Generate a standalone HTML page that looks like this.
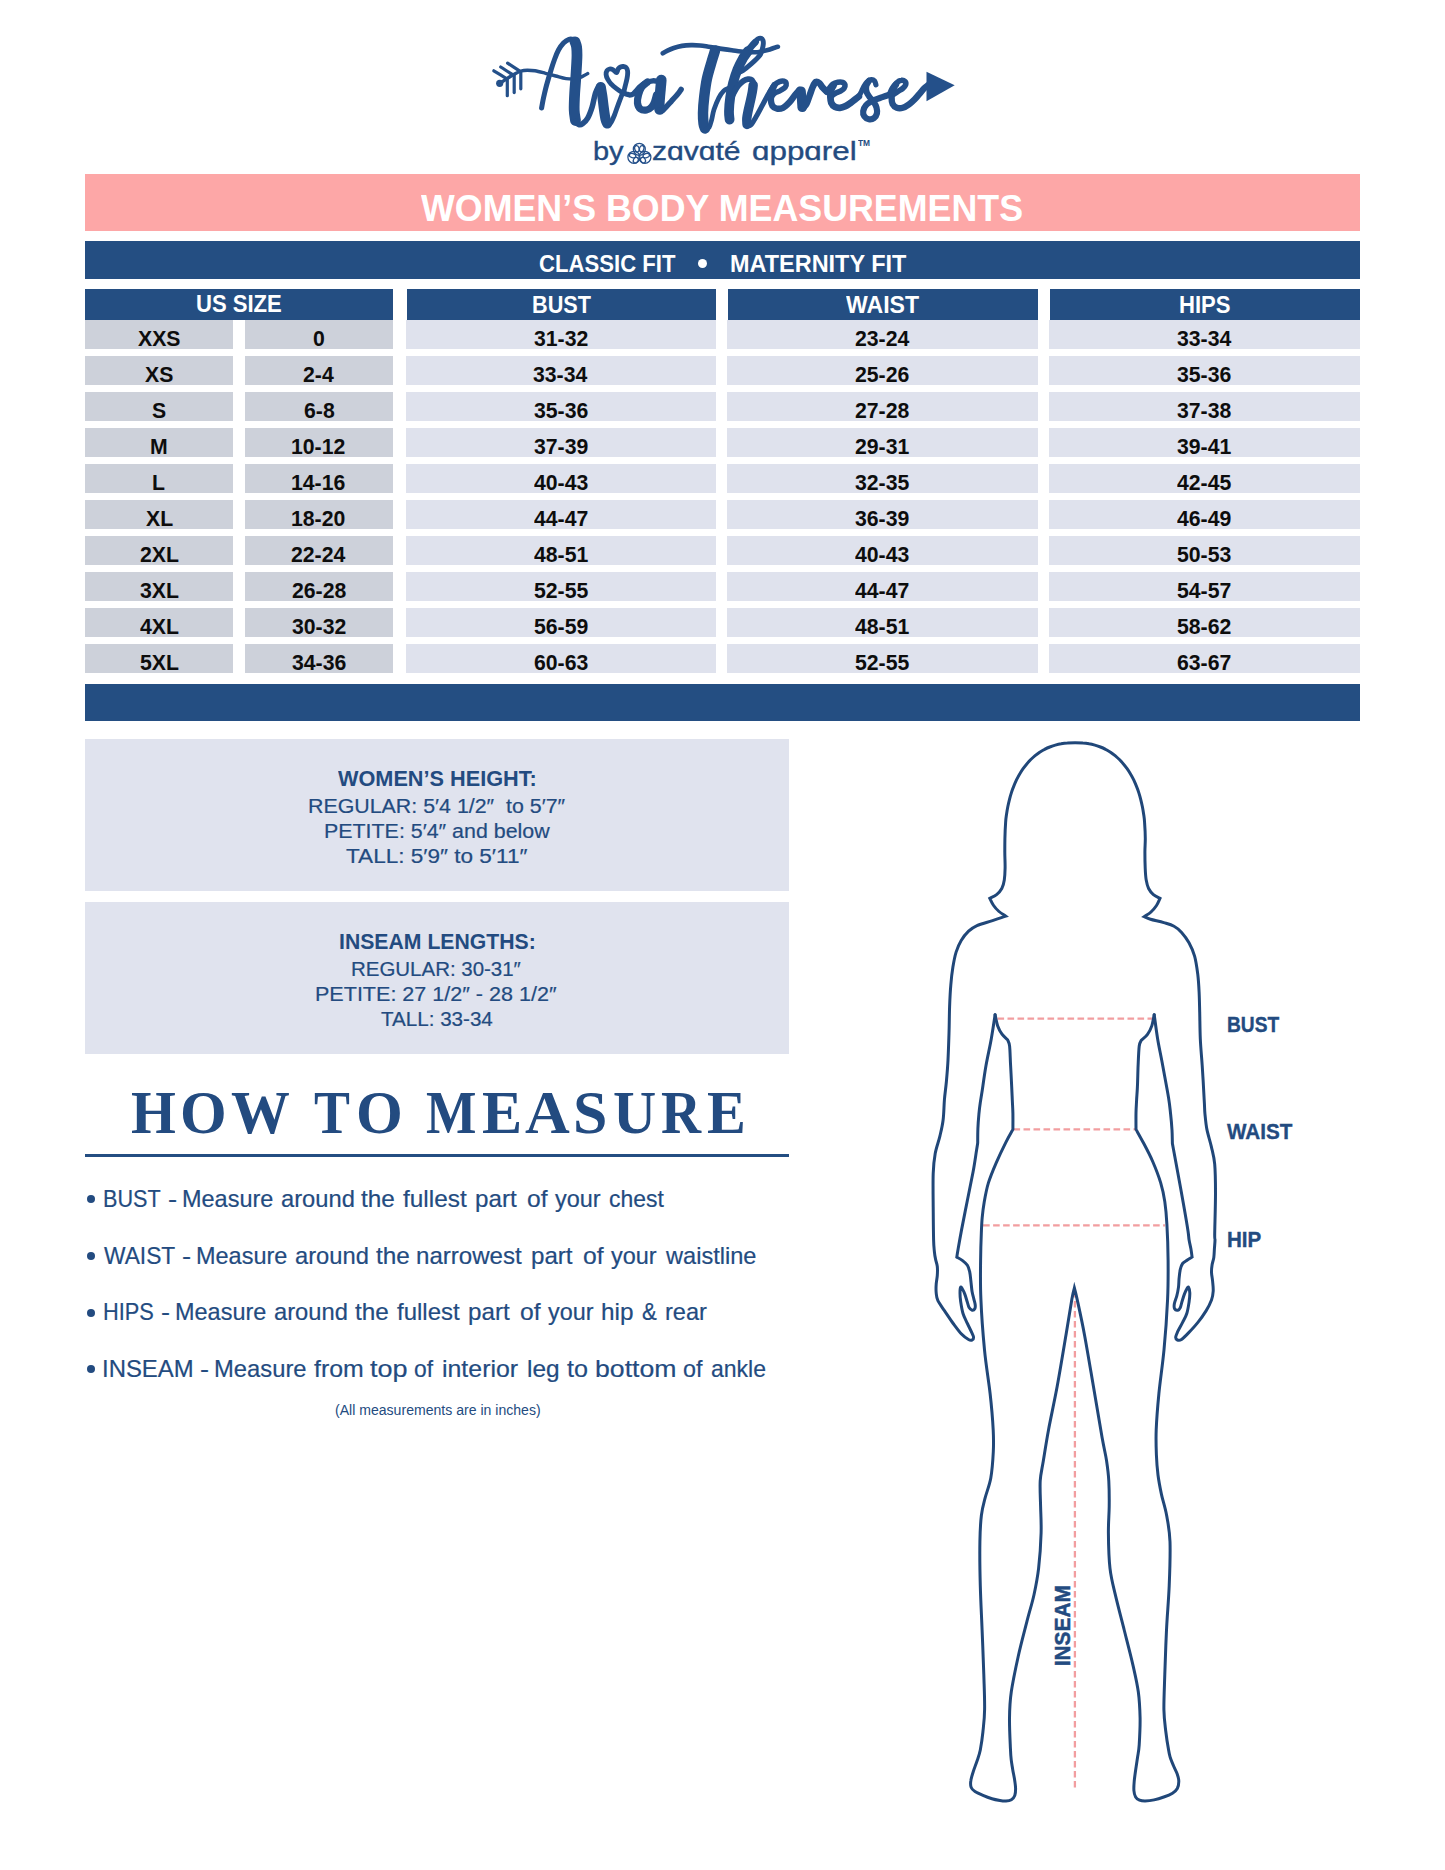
<!DOCTYPE html>
<html><head><meta charset="utf-8"><style>
html,body{margin:0;padding:0;background:#fff;}
body{width:1445px;height:1870px;position:relative;overflow:hidden;font-family:"Liberation Sans",sans-serif;}
.r{position:absolute;}
.t{position:absolute;white-space:pre;transform-origin:0 0;}
svg{position:absolute;left:0;top:0;}
</style></head><body>
<div class="r" style="left:85px;top:174px;width:1275px;height:57px;background:#fda7a7"></div>
<div class="r" style="left:85px;top:241px;width:1275px;height:38px;background:#244e82"></div>
<div class="r" style="left:85px;top:289px;width:308px;height:31px;background:#244e82"></div>
<div class="r" style="left:407px;top:289px;width:309px;height:31px;background:#244e82"></div>
<div class="r" style="left:727.5px;top:289px;width:310.5px;height:31px;background:#244e82"></div>
<div class="r" style="left:1049.5px;top:289px;width:310.5px;height:31px;background:#244e82"></div>
<div class="r" style="left:85px;top:320px;width:148px;height:29px;background:#cdd1da"></div>
<div class="r" style="left:245px;top:320px;width:148px;height:29px;background:#cdd1da"></div>
<div class="r" style="left:406px;top:320px;width:310px;height:29px;background:#dfe2ed"></div>
<div class="r" style="left:727px;top:320px;width:311px;height:29px;background:#dfe2ed"></div>
<div class="r" style="left:1049px;top:320px;width:311px;height:29px;background:#dfe2ed"></div>
<div class="r" style="left:85px;top:356px;width:148px;height:29px;background:#cdd1da"></div>
<div class="r" style="left:245px;top:356px;width:148px;height:29px;background:#cdd1da"></div>
<div class="r" style="left:406px;top:356px;width:310px;height:29px;background:#dfe2ed"></div>
<div class="r" style="left:727px;top:356px;width:311px;height:29px;background:#dfe2ed"></div>
<div class="r" style="left:1049px;top:356px;width:311px;height:29px;background:#dfe2ed"></div>
<div class="r" style="left:85px;top:392px;width:148px;height:29px;background:#cdd1da"></div>
<div class="r" style="left:245px;top:392px;width:148px;height:29px;background:#cdd1da"></div>
<div class="r" style="left:406px;top:392px;width:310px;height:29px;background:#dfe2ed"></div>
<div class="r" style="left:727px;top:392px;width:311px;height:29px;background:#dfe2ed"></div>
<div class="r" style="left:1049px;top:392px;width:311px;height:29px;background:#dfe2ed"></div>
<div class="r" style="left:85px;top:428px;width:148px;height:29px;background:#cdd1da"></div>
<div class="r" style="left:245px;top:428px;width:148px;height:29px;background:#cdd1da"></div>
<div class="r" style="left:406px;top:428px;width:310px;height:29px;background:#dfe2ed"></div>
<div class="r" style="left:727px;top:428px;width:311px;height:29px;background:#dfe2ed"></div>
<div class="r" style="left:1049px;top:428px;width:311px;height:29px;background:#dfe2ed"></div>
<div class="r" style="left:85px;top:464px;width:148px;height:29px;background:#cdd1da"></div>
<div class="r" style="left:245px;top:464px;width:148px;height:29px;background:#cdd1da"></div>
<div class="r" style="left:406px;top:464px;width:310px;height:29px;background:#dfe2ed"></div>
<div class="r" style="left:727px;top:464px;width:311px;height:29px;background:#dfe2ed"></div>
<div class="r" style="left:1049px;top:464px;width:311px;height:29px;background:#dfe2ed"></div>
<div class="r" style="left:85px;top:500px;width:148px;height:29px;background:#cdd1da"></div>
<div class="r" style="left:245px;top:500px;width:148px;height:29px;background:#cdd1da"></div>
<div class="r" style="left:406px;top:500px;width:310px;height:29px;background:#dfe2ed"></div>
<div class="r" style="left:727px;top:500px;width:311px;height:29px;background:#dfe2ed"></div>
<div class="r" style="left:1049px;top:500px;width:311px;height:29px;background:#dfe2ed"></div>
<div class="r" style="left:85px;top:536px;width:148px;height:29px;background:#cdd1da"></div>
<div class="r" style="left:245px;top:536px;width:148px;height:29px;background:#cdd1da"></div>
<div class="r" style="left:406px;top:536px;width:310px;height:29px;background:#dfe2ed"></div>
<div class="r" style="left:727px;top:536px;width:311px;height:29px;background:#dfe2ed"></div>
<div class="r" style="left:1049px;top:536px;width:311px;height:29px;background:#dfe2ed"></div>
<div class="r" style="left:85px;top:572px;width:148px;height:29px;background:#cdd1da"></div>
<div class="r" style="left:245px;top:572px;width:148px;height:29px;background:#cdd1da"></div>
<div class="r" style="left:406px;top:572px;width:310px;height:29px;background:#dfe2ed"></div>
<div class="r" style="left:727px;top:572px;width:311px;height:29px;background:#dfe2ed"></div>
<div class="r" style="left:1049px;top:572px;width:311px;height:29px;background:#dfe2ed"></div>
<div class="r" style="left:85px;top:608px;width:148px;height:29px;background:#cdd1da"></div>
<div class="r" style="left:245px;top:608px;width:148px;height:29px;background:#cdd1da"></div>
<div class="r" style="left:406px;top:608px;width:310px;height:29px;background:#dfe2ed"></div>
<div class="r" style="left:727px;top:608px;width:311px;height:29px;background:#dfe2ed"></div>
<div class="r" style="left:1049px;top:608px;width:311px;height:29px;background:#dfe2ed"></div>
<div class="r" style="left:85px;top:644px;width:148px;height:29px;background:#cdd1da"></div>
<div class="r" style="left:245px;top:644px;width:148px;height:29px;background:#cdd1da"></div>
<div class="r" style="left:406px;top:644px;width:310px;height:29px;background:#dfe2ed"></div>
<div class="r" style="left:727px;top:644px;width:311px;height:29px;background:#dfe2ed"></div>
<div class="r" style="left:1049px;top:644px;width:311px;height:29px;background:#dfe2ed"></div>
<div class="r" style="left:85px;top:684px;width:1275px;height:37px;background:#244e82"></div>
<div class="r" style="left:85px;top:739px;width:704px;height:152px;background:#e0e3ee"></div>
<div class="r" style="left:85px;top:902px;width:704px;height:152px;background:#e0e3ee"></div>
<div class="r" style="left:85px;top:1154px;width:704px;height:2.5px;background:#244e82"></div>
<div class="r" style="left:697.8px;top:259.2px;width:9px;height:9px;border-radius:50%;background:#fff"></div><div class="r" style="left:86.5px;top:1195.4px;width:8px;height:8px;border-radius:50%;background:#234b80"></div><div class="r" style="left:86.5px;top:1252.0px;width:8px;height:8px;border-radius:50%;background:#234b80"></div><div class="r" style="left:86.5px;top:1308.6px;width:8px;height:8px;border-radius:50%;background:#234b80"></div><div class="r" style="left:86.5px;top:1365.2px;width:8px;height:8px;border-radius:50%;background:#234b80"></div>
<div class="t" style="left:421.20px;top:189.63px;font:normal bold 37.4px/37.4px 'Liberation Sans',sans-serif;color:#fff;transform:scaleX(0.9575);">WOMEN’S BODY MEASUREMENTS</div>
<div class="t" style="left:538.60px;top:252.20px;font:normal bold 24.1px/24.1px 'Liberation Sans',sans-serif;color:#fff;transform:scaleX(0.9183);">CLASSIC FIT</div>
<div class="t" style="left:729.83px;top:252.20px;font:normal bold 24.1px/24.1px 'Liberation Sans',sans-serif;color:#fff;transform:scaleX(0.9737);">MATERNITY FIT</div>
<div class="t" style="left:195.71px;top:292.40px;font:normal bold 24.8px/24.8px 'Liberation Sans',sans-serif;color:#fff;transform:scaleX(0.8892);">US SIZE</div>
<div class="t" style="left:532.13px;top:292.70px;font:normal bold 24.8px/24.8px 'Liberation Sans',sans-serif;color:#fff;transform:scaleX(0.8726);">BUST</div>
<div class="t" style="left:846.20px;top:292.70px;font:normal bold 24.8px/24.8px 'Liberation Sans',sans-serif;color:#fff;transform:scaleX(0.9302);">WAIST</div>
<div class="t" style="left:1179.01px;top:292.70px;font:normal bold 24.8px/24.8px 'Liberation Sans',sans-serif;color:#fff;transform:scaleX(0.8893);">HIPS</div>
<div class="t" style="left:138.08px;top:328.07px;font:normal bold 22px/22px 'Liberation Sans',sans-serif;color:#0d0d0d;transform:scaleX(0.9650);">XXS</div>
<div class="t" style="left:313.21px;top:328.07px;font:normal bold 22px/22px 'Liberation Sans',sans-serif;color:#0d0d0d;transform:scaleX(0.9650);">0</div>
<div class="t" style="left:533.96px;top:328.07px;font:normal bold 22px/22px 'Liberation Sans',sans-serif;color:#0d0d0d;transform:scaleX(0.9650);">31-32</div>
<div class="t" style="left:854.98px;top:328.07px;font:normal bold 22px/22px 'Liberation Sans',sans-serif;color:#0d0d0d;transform:scaleX(0.9650);">23-24</div>
<div class="t" style="left:1176.98px;top:328.07px;font:normal bold 22px/22px 'Liberation Sans',sans-serif;color:#0d0d0d;transform:scaleX(0.9650);">33-34</div>
<div class="t" style="left:145.16px;top:364.07px;font:normal bold 22px/22px 'Liberation Sans',sans-serif;color:#0d0d0d;transform:scaleX(0.9650);">XS</div>
<div class="t" style="left:303.29px;top:364.07px;font:normal bold 22px/22px 'Liberation Sans',sans-serif;color:#0d0d0d;transform:scaleX(0.9650);">2-4</div>
<div class="t" style="left:533.48px;top:364.07px;font:normal bold 22px/22px 'Liberation Sans',sans-serif;color:#0d0d0d;transform:scaleX(0.9650);">33-34</div>
<div class="t" style="left:855.46px;top:364.07px;font:normal bold 22px/22px 'Liberation Sans',sans-serif;color:#0d0d0d;transform:scaleX(0.9650);">25-26</div>
<div class="t" style="left:1177.46px;top:364.07px;font:normal bold 22px/22px 'Liberation Sans',sans-serif;color:#0d0d0d;transform:scaleX(0.9650);">35-36</div>
<div class="t" style="left:152.25px;top:400.07px;font:normal bold 22px/22px 'Liberation Sans',sans-serif;color:#0d0d0d;transform:scaleX(0.9650);">S</div>
<div class="t" style="left:303.77px;top:400.07px;font:normal bold 22px/22px 'Liberation Sans',sans-serif;color:#0d0d0d;transform:scaleX(0.9650);">6-8</div>
<div class="t" style="left:533.96px;top:400.07px;font:normal bold 22px/22px 'Liberation Sans',sans-serif;color:#0d0d0d;transform:scaleX(0.9650);">35-36</div>
<div class="t" style="left:855.46px;top:400.07px;font:normal bold 22px/22px 'Liberation Sans',sans-serif;color:#0d0d0d;transform:scaleX(0.9650);">27-28</div>
<div class="t" style="left:1177.46px;top:400.07px;font:normal bold 22px/22px 'Liberation Sans',sans-serif;color:#0d0d0d;transform:scaleX(0.9650);">37-38</div>
<div class="t" style="left:150.31px;top:436.07px;font:normal bold 22px/22px 'Liberation Sans',sans-serif;color:#0d0d0d;transform:scaleX(0.9650);">M</div>
<div class="t" style="left:291.48px;top:436.07px;font:normal bold 22px/22px 'Liberation Sans',sans-serif;color:#0d0d0d;transform:scaleX(0.9650);">10-12</div>
<div class="t" style="left:533.96px;top:436.07px;font:normal bold 22px/22px 'Liberation Sans',sans-serif;color:#0d0d0d;transform:scaleX(0.9650);">37-39</div>
<div class="t" style="left:855.46px;top:436.07px;font:normal bold 22px/22px 'Liberation Sans',sans-serif;color:#0d0d0d;transform:scaleX(0.9650);">29-31</div>
<div class="t" style="left:1177.46px;top:436.07px;font:normal bold 22px/22px 'Liberation Sans',sans-serif;color:#0d0d0d;transform:scaleX(0.9650);">39-41</div>
<div class="t" style="left:152.25px;top:472.07px;font:normal bold 22px/22px 'Liberation Sans',sans-serif;color:#0d0d0d;transform:scaleX(0.9650);">L</div>
<div class="t" style="left:291.48px;top:472.07px;font:normal bold 22px/22px 'Liberation Sans',sans-serif;color:#0d0d0d;transform:scaleX(0.9650);">14-16</div>
<div class="t" style="left:533.96px;top:472.07px;font:normal bold 22px/22px 'Liberation Sans',sans-serif;color:#0d0d0d;transform:scaleX(0.9650);">40-43</div>
<div class="t" style="left:855.46px;top:472.07px;font:normal bold 22px/22px 'Liberation Sans',sans-serif;color:#0d0d0d;transform:scaleX(0.9650);">32-35</div>
<div class="t" style="left:1177.46px;top:472.07px;font:normal bold 22px/22px 'Liberation Sans',sans-serif;color:#0d0d0d;transform:scaleX(0.9650);">42-45</div>
<div class="t" style="left:145.65px;top:508.07px;font:normal bold 22px/22px 'Liberation Sans',sans-serif;color:#0d0d0d;transform:scaleX(0.9650);">XL</div>
<div class="t" style="left:291.48px;top:508.07px;font:normal bold 22px/22px 'Liberation Sans',sans-serif;color:#0d0d0d;transform:scaleX(0.9650);">18-20</div>
<div class="t" style="left:533.96px;top:508.07px;font:normal bold 22px/22px 'Liberation Sans',sans-serif;color:#0d0d0d;transform:scaleX(0.9650);">44-47</div>
<div class="t" style="left:855.46px;top:508.07px;font:normal bold 22px/22px 'Liberation Sans',sans-serif;color:#0d0d0d;transform:scaleX(0.9650);">36-39</div>
<div class="t" style="left:1177.46px;top:508.07px;font:normal bold 22px/22px 'Liberation Sans',sans-serif;color:#0d0d0d;transform:scaleX(0.9650);">46-49</div>
<div class="t" style="left:139.74px;top:544.07px;font:normal bold 22px/22px 'Liberation Sans',sans-serif;color:#0d0d0d;transform:scaleX(0.9650);">2XL</div>
<div class="t" style="left:291.48px;top:544.07px;font:normal bold 22px/22px 'Liberation Sans',sans-serif;color:#0d0d0d;transform:scaleX(0.9650);">22-24</div>
<div class="t" style="left:533.96px;top:544.07px;font:normal bold 22px/22px 'Liberation Sans',sans-serif;color:#0d0d0d;transform:scaleX(0.9650);">48-51</div>
<div class="t" style="left:855.46px;top:544.07px;font:normal bold 22px/22px 'Liberation Sans',sans-serif;color:#0d0d0d;transform:scaleX(0.9650);">40-43</div>
<div class="t" style="left:1177.46px;top:544.07px;font:normal bold 22px/22px 'Liberation Sans',sans-serif;color:#0d0d0d;transform:scaleX(0.9650);">50-53</div>
<div class="t" style="left:139.74px;top:580.07px;font:normal bold 22px/22px 'Liberation Sans',sans-serif;color:#0d0d0d;transform:scaleX(0.9650);">3XL</div>
<div class="t" style="left:291.96px;top:580.07px;font:normal bold 22px/22px 'Liberation Sans',sans-serif;color:#0d0d0d;transform:scaleX(0.9650);">26-28</div>
<div class="t" style="left:533.96px;top:580.07px;font:normal bold 22px/22px 'Liberation Sans',sans-serif;color:#0d0d0d;transform:scaleX(0.9650);">52-55</div>
<div class="t" style="left:855.46px;top:580.07px;font:normal bold 22px/22px 'Liberation Sans',sans-serif;color:#0d0d0d;transform:scaleX(0.9650);">44-47</div>
<div class="t" style="left:1177.46px;top:580.07px;font:normal bold 22px/22px 'Liberation Sans',sans-serif;color:#0d0d0d;transform:scaleX(0.9650);">54-57</div>
<div class="t" style="left:139.74px;top:616.07px;font:normal bold 22px/22px 'Liberation Sans',sans-serif;color:#0d0d0d;transform:scaleX(0.9650);">4XL</div>
<div class="t" style="left:291.96px;top:616.07px;font:normal bold 22px/22px 'Liberation Sans',sans-serif;color:#0d0d0d;transform:scaleX(0.9650);">30-32</div>
<div class="t" style="left:533.96px;top:616.07px;font:normal bold 22px/22px 'Liberation Sans',sans-serif;color:#0d0d0d;transform:scaleX(0.9650);">56-59</div>
<div class="t" style="left:855.46px;top:616.07px;font:normal bold 22px/22px 'Liberation Sans',sans-serif;color:#0d0d0d;transform:scaleX(0.9650);">48-51</div>
<div class="t" style="left:1177.46px;top:616.07px;font:normal bold 22px/22px 'Liberation Sans',sans-serif;color:#0d0d0d;transform:scaleX(0.9650);">58-62</div>
<div class="t" style="left:139.74px;top:652.07px;font:normal bold 22px/22px 'Liberation Sans',sans-serif;color:#0d0d0d;transform:scaleX(0.9650);">5XL</div>
<div class="t" style="left:291.96px;top:652.07px;font:normal bold 22px/22px 'Liberation Sans',sans-serif;color:#0d0d0d;transform:scaleX(0.9650);">34-36</div>
<div class="t" style="left:533.96px;top:652.07px;font:normal bold 22px/22px 'Liberation Sans',sans-serif;color:#0d0d0d;transform:scaleX(0.9650);">60-63</div>
<div class="t" style="left:855.46px;top:652.07px;font:normal bold 22px/22px 'Liberation Sans',sans-serif;color:#0d0d0d;transform:scaleX(0.9650);">52-55</div>
<div class="t" style="left:1177.46px;top:652.07px;font:normal bold 22px/22px 'Liberation Sans',sans-serif;color:#0d0d0d;transform:scaleX(0.9650);">63-67</div>
<div class="t" style="left:337.80px;top:769.20px;font:normal bold 21.5px/21.5px 'Liberation Sans',sans-serif;color:#234b80;transform:scaleX(1.0086);">WOMEN’S HEIGHT:</div>
<div class="t" style="left:307.66px;top:795.64px;font:normal normal 20.5px/20.5px 'Liberation Sans',sans-serif;color:#234b80;transform:scaleX(1.0423);-webkit-text-stroke:0.2px #234b80">REGULAR: 5′4 1/2″  to 5′7″</div>
<div class="t" style="left:324.16px;top:820.84px;font:normal normal 20.5px/20.5px 'Liberation Sans',sans-serif;color:#234b80;transform:scaleX(1.0436);-webkit-text-stroke:0.2px #234b80">PETITE: 5′4″ and below</div>
<div class="t" style="left:345.50px;top:846.04px;font:normal normal 20.5px/20.5px 'Liberation Sans',sans-serif;color:#234b80;transform:scaleX(1.0996);-webkit-text-stroke:0.2px #234b80">TALL: 5′9″ to 5′11″</div>
<div class="t" style="left:338.71px;top:932.20px;font:normal bold 21.5px/21.5px 'Liberation Sans',sans-serif;color:#234b80;transform:scaleX(0.9868);">INSEAM LENGTHS:</div>
<div class="t" style="left:351.30px;top:958.64px;font:normal normal 20.5px/20.5px 'Liberation Sans',sans-serif;color:#234b80;transform:scaleX(0.9981);-webkit-text-stroke:0.2px #234b80">REGULAR: 30-31″</div>
<div class="t" style="left:315.45px;top:983.84px;font:normal normal 20.5px/20.5px 'Liberation Sans',sans-serif;color:#234b80;transform:scaleX(1.0507);-webkit-text-stroke:0.2px #234b80">PETITE: 27 1/2″ - 28 1/2″</div>
<div class="t" style="left:381.40px;top:1009.24px;font:normal normal 20.5px/20.5px 'Liberation Sans',sans-serif;color:#234b80;transform:scaleX(1.0045);-webkit-text-stroke:0.2px #234b80">TALL: 33-34</div>
<div class="t" style="left:130.85px;top:1081.92px;font:normal bold 61px/61px 'Liberation Serif',serif;color:#234b80;transform:scaleX(0.9457);">H</div>
<div class="t" style="left:180.43px;top:1081.92px;font:normal bold 61px/61px 'Liberation Serif',serif;color:#234b80;transform:scaleX(0.9837);">O</div>
<div class="t" style="left:230.60px;top:1081.92px;font:normal bold 61px/61px 'Liberation Serif',serif;color:#234b80;transform:scaleX(0.9639);">W</div>
<div class="t" style="left:314.10px;top:1081.92px;font:normal bold 61px/61px 'Liberation Serif',serif;color:#234b80;transform:scaleX(0.8825);">T</div>
<div class="t" style="left:355.63px;top:1081.92px;font:normal bold 61px/61px 'Liberation Serif',serif;color:#234b80;transform:scaleX(0.9860);">O</div>
<div class="t" style="left:425.62px;top:1081.92px;font:normal bold 61px/61px 'Liberation Serif',serif;color:#234b80;transform:scaleX(0.8764);">M</div>
<div class="t" style="left:481.91px;top:1081.92px;font:normal bold 61px/61px 'Liberation Serif',serif;color:#234b80;transform:scaleX(0.9865);">E</div>
<div class="t" style="left:525.30px;top:1081.92px;font:normal bold 61px/61px 'Liberation Serif',serif;color:#234b80;transform:scaleX(1.0159);">A</div>
<div class="t" style="left:572.86px;top:1081.92px;font:normal bold 61px/61px 'Liberation Serif',serif;color:#234b80;transform:scaleX(1.0138);">S</div>
<div class="t" style="left:612.52px;top:1081.92px;font:normal bold 61px/61px 'Liberation Serif',serif;color:#234b80;transform:scaleX(0.9810);">U</div>
<div class="t" style="left:660.89px;top:1081.92px;font:normal bold 61px/61px 'Liberation Serif',serif;color:#234b80;transform:scaleX(0.9091);">R</div>
<div class="t" style="left:706.65px;top:1081.92px;font:normal bold 61px/61px 'Liberation Serif',serif;color:#234b80;transform:scaleX(0.9541);">E</div>
<div class="t" style="left:103.47px;top:1188.26px;font:normal normal 23.2px/23.2px 'Liberation Sans',sans-serif;color:#234b80;transform:scaleX(0.9312);-webkit-text-stroke:0.2px #234b80">BUST</div>
<div class="t" style="left:167.92px;top:1188.26px;font:normal normal 23.2px/23.2px 'Liberation Sans',sans-serif;color:#234b80;transform:scaleX(1.1833);-webkit-text-stroke:0.2px #234b80">-</div>
<div class="t" style="left:182.19px;top:1188.26px;font:normal normal 23.2px/23.2px 'Liberation Sans',sans-serif;color:#234b80;transform:scaleX(1.0123);-webkit-text-stroke:0.2px #234b80">Measure</div>
<div class="t" style="left:280.90px;top:1188.26px;font:normal normal 23.2px/23.2px 'Liberation Sans',sans-serif;color:#234b80;transform:scaleX(1.0224);-webkit-text-stroke:0.2px #234b80">around</div>
<div class="t" style="left:360.90px;top:1188.26px;font:normal normal 23.2px/23.2px 'Liberation Sans',sans-serif;color:#234b80;transform:scaleX(1.0498);-webkit-text-stroke:0.2px #234b80">the</div>
<div class="t" style="left:402.50px;top:1188.26px;font:normal normal 23.2px/23.2px 'Liberation Sans',sans-serif;color:#234b80;transform:scaleX(1.0518);-webkit-text-stroke:0.2px #234b80">fullest</div>
<div class="t" style="left:475.16px;top:1188.26px;font:normal normal 23.2px/23.2px 'Liberation Sans',sans-serif;color:#234b80;transform:scaleX(1.0427);-webkit-text-stroke:0.2px #234b80">part</div>
<div class="t" style="left:526.80px;top:1188.26px;font:normal normal 23.2px/23.2px 'Liberation Sans',sans-serif;color:#234b80;transform:scaleX(1.0605);-webkit-text-stroke:0.2px #234b80">of</div>
<div class="t" style="left:555.00px;top:1188.26px;font:normal normal 23.2px/23.2px 'Liberation Sans',sans-serif;color:#234b80;transform:scaleX(1.0113);-webkit-text-stroke:0.2px #234b80">your</div>
<div class="t" style="left:609.10px;top:1188.26px;font:normal normal 23.2px/23.2px 'Liberation Sans',sans-serif;color:#234b80;transform:scaleX(0.9879);-webkit-text-stroke:0.2px #234b80">chest</div>
<div class="t" style="left:103.90px;top:1244.86px;font:normal normal 23.2px/23.2px 'Liberation Sans',sans-serif;color:#234b80;transform:scaleX(0.9821);-webkit-text-stroke:0.2px #234b80">WAIST</div>
<div class="t" style="left:182.02px;top:1244.86px;font:normal normal 23.2px/23.2px 'Liberation Sans',sans-serif;color:#234b80;transform:scaleX(1.1833);-webkit-text-stroke:0.2px #234b80">-</div>
<div class="t" style="left:196.39px;top:1244.86px;font:normal normal 23.2px/23.2px 'Liberation Sans',sans-serif;color:#234b80;transform:scaleX(1.0123);-webkit-text-stroke:0.2px #234b80">Measure</div>
<div class="t" style="left:295.00px;top:1244.86px;font:normal normal 23.2px/23.2px 'Liberation Sans',sans-serif;color:#234b80;transform:scaleX(1.0224);-webkit-text-stroke:0.2px #234b80">around</div>
<div class="t" style="left:376.20px;top:1244.86px;font:normal normal 23.2px/23.2px 'Liberation Sans',sans-serif;color:#234b80;transform:scaleX(1.0498);-webkit-text-stroke:0.2px #234b80">the</div>
<div class="t" style="left:416.36px;top:1244.86px;font:normal normal 23.2px/23.2px 'Liberation Sans',sans-serif;color:#234b80;transform:scaleX(1.0378);-webkit-text-stroke:0.2px #234b80">narrowest</div>
<div class="t" style="left:531.06px;top:1244.86px;font:normal normal 23.2px/23.2px 'Liberation Sans',sans-serif;color:#234b80;transform:scaleX(1.0402);-webkit-text-stroke:0.2px #234b80">part</div>
<div class="t" style="left:582.60px;top:1244.86px;font:normal normal 23.2px/23.2px 'Liberation Sans',sans-serif;color:#234b80;transform:scaleX(1.0656);-webkit-text-stroke:0.2px #234b80">of</div>
<div class="t" style="left:610.90px;top:1244.86px;font:normal normal 23.2px/23.2px 'Liberation Sans',sans-serif;color:#234b80;transform:scaleX(1.0113);-webkit-text-stroke:0.2px #234b80">your</div>
<div class="t" style="left:666.02px;top:1244.86px;font:normal normal 23.2px/23.2px 'Liberation Sans',sans-serif;color:#234b80;transform:scaleX(1.0177);-webkit-text-stroke:0.2px #234b80">waistline</div>
<div class="t" style="left:103.46px;top:1301.46px;font:normal normal 23.2px/23.2px 'Liberation Sans',sans-serif;color:#234b80;transform:scaleX(0.9382);-webkit-text-stroke:0.2px #234b80">HIPS</div>
<div class="t" style="left:160.93px;top:1301.46px;font:normal normal 23.2px/23.2px 'Liberation Sans',sans-serif;color:#234b80;transform:scaleX(1.1667);-webkit-text-stroke:0.2px #234b80">-</div>
<div class="t" style="left:175.19px;top:1301.46px;font:normal normal 23.2px/23.2px 'Liberation Sans',sans-serif;color:#234b80;transform:scaleX(1.0123);-webkit-text-stroke:0.2px #234b80">Measure</div>
<div class="t" style="left:273.80px;top:1301.46px;font:normal normal 23.2px/23.2px 'Liberation Sans',sans-serif;color:#234b80;transform:scaleX(1.0238);-webkit-text-stroke:0.2px #234b80">around</div>
<div class="t" style="left:355.00px;top:1301.46px;font:normal normal 23.2px/23.2px 'Liberation Sans',sans-serif;color:#234b80;transform:scaleX(1.0498);-webkit-text-stroke:0.2px #234b80">the</div>
<div class="t" style="left:396.50px;top:1301.46px;font:normal normal 23.2px/23.2px 'Liberation Sans',sans-serif;color:#234b80;transform:scaleX(1.0339);-webkit-text-stroke:0.2px #234b80">fullest</div>
<div class="t" style="left:468.06px;top:1301.46px;font:normal normal 23.2px/23.2px 'Liberation Sans',sans-serif;color:#234b80;transform:scaleX(1.0427);-webkit-text-stroke:0.2px #234b80">part</div>
<div class="t" style="left:519.70px;top:1301.46px;font:normal normal 23.2px/23.2px 'Liberation Sans',sans-serif;color:#234b80;transform:scaleX(1.0656);-webkit-text-stroke:0.2px #234b80">of</div>
<div class="t" style="left:548.00px;top:1301.46px;font:normal normal 23.2px/23.2px 'Liberation Sans',sans-serif;color:#234b80;transform:scaleX(1.0091);-webkit-text-stroke:0.2px #234b80">your</div>
<div class="t" style="left:601.05px;top:1301.46px;font:normal normal 23.2px/23.2px 'Liberation Sans',sans-serif;color:#234b80;transform:scaleX(1.0500);-webkit-text-stroke:0.2px #234b80">hip</div>
<div class="t" style="left:642.10px;top:1301.46px;font:normal normal 23.2px/23.2px 'Liberation Sans',sans-serif;color:#234b80;transform:scaleX(0.9562);-webkit-text-stroke:0.2px #234b80">&amp;</div>
<div class="t" style="left:664.58px;top:1301.46px;font:normal normal 23.2px/23.2px 'Liberation Sans',sans-serif;color:#234b80;transform:scaleX(1.0170);-webkit-text-stroke:0.2px #234b80">rear</div>
<div class="t" style="left:102.34px;top:1358.06px;font:normal normal 23.2px/23.2px 'Liberation Sans',sans-serif;color:#234b80;transform:scaleX(1.0306);-webkit-text-stroke:0.2px #234b80">INSEAM</div>
<div class="t" style="left:199.73px;top:1358.06px;font:normal normal 23.2px/23.2px 'Liberation Sans',sans-serif;color:#234b80;transform:scaleX(1.1667);-webkit-text-stroke:0.2px #234b80">-</div>
<div class="t" style="left:213.97px;top:1358.06px;font:normal normal 23.2px/23.2px 'Liberation Sans',sans-serif;color:#234b80;transform:scaleX(1.0258);-webkit-text-stroke:0.2px #234b80">Measure</div>
<div class="t" style="left:313.80px;top:1358.06px;font:normal normal 23.2px/23.2px 'Liberation Sans',sans-serif;color:#234b80;transform:scaleX(1.0719);-webkit-text-stroke:0.2px #234b80">from</div>
<div class="t" style="left:370.30px;top:1358.06px;font:normal normal 23.2px/23.2px 'Liberation Sans',sans-serif;color:#234b80;transform:scaleX(1.1647);-webkit-text-stroke:0.2px #234b80">top</div>
<div class="t" style="left:413.80px;top:1358.06px;font:normal normal 23.2px/23.2px 'Liberation Sans',sans-serif;color:#234b80;transform:scaleX(0.9851);-webkit-text-stroke:0.2px #234b80">of</div>
<div class="t" style="left:441.83px;top:1358.06px;font:normal normal 23.2px/23.2px 'Liberation Sans',sans-serif;color:#234b80;transform:scaleX(1.0733);-webkit-text-stroke:0.2px #234b80">interior</div>
<div class="t" style="left:526.55px;top:1358.06px;font:normal normal 23.2px/23.2px 'Liberation Sans',sans-serif;color:#234b80;transform:scaleX(1.0535);-webkit-text-stroke:0.2px #234b80">leg</div>
<div class="t" style="left:566.50px;top:1358.06px;font:normal normal 23.2px/23.2px 'Liberation Sans',sans-serif;color:#234b80;transform:scaleX(1.0845);-webkit-text-stroke:0.2px #234b80">to</div>
<div class="t" style="left:594.75px;top:1358.06px;font:normal normal 23.2px/23.2px 'Liberation Sans',sans-serif;color:#234b80;transform:scaleX(1.1492);-webkit-text-stroke:0.2px #234b80">bottom</div>
<div class="t" style="left:682.90px;top:1358.06px;font:normal normal 23.2px/23.2px 'Liberation Sans',sans-serif;color:#234b80;transform:scaleX(1.0052);-webkit-text-stroke:0.2px #234b80">of</div>
<div class="t" style="left:711.20px;top:1358.06px;font:normal normal 23.2px/23.2px 'Liberation Sans',sans-serif;color:#234b80;transform:scaleX(0.9920);-webkit-text-stroke:0.2px #234b80">ankle</div>
<div class="t" style="left:334.60px;top:1403.82px;font:normal normal 13.8px/13.8px 'Liberation Sans',sans-serif;color:#234b80;transform:scaleX(1.0195);">(All measurements are in inches)</div>
<div class="t" style="left:1226.94px;top:1013.62px;font:normal bold 22.3px/22.3px 'Liberation Sans',sans-serif;color:#234b80;transform:scaleX(0.8589);-webkit-text-stroke:0.35px #234b80">BUST</div>
<div class="t" style="left:1227.20px;top:1121.32px;font:normal bold 22.3px/22.3px 'Liberation Sans',sans-serif;color:#234b80;transform:scaleX(0.9270);-webkit-text-stroke:0.35px #234b80">WAIST</div>
<div class="t" style="left:1226.88px;top:1229.42px;font:normal bold 22.3px/22.3px 'Liberation Sans',sans-serif;color:#234b80;transform:scaleX(0.9229);-webkit-text-stroke:0.35px #234b80">HIP</div>
<div class="t" style="left:592.84px;top:139.03px;font:normal normal 25px/25px 'Liberation Sans',sans-serif;color:#234b80;transform:scaleX(1.1581);-webkit-text-stroke:0.35px #234b80">by</div>
<div class="t" style="left:652.00px;top:139.03px;font:normal normal 25px/25px 'Liberation Sans',sans-serif;color:#234b80;transform:scaleX(1.2027);-webkit-text-stroke:0.35px #234b80">zɑvɑté</div>
<div class="t" style="left:752.35px;top:139.03px;font:normal normal 25px/25px 'Liberation Sans',sans-serif;color:#234b80;transform:scaleX(1.2543);-webkit-text-stroke:0.35px #234b80">ɑppɑrel</div>
<div class="t" style="left:858.00px;top:139.40px;font:normal bold 8.5px/8.5px 'Liberation Sans',sans-serif;color:#234b80;transform:scaleX(0.9842);">TM</div>
<svg width="1445" height="1870" viewBox="0 0 1445 1870">
<g fill="none" stroke="#f29ea0" stroke-width="2.3" stroke-dasharray="6.6 3.4">
<line x1="997.5" y1="1018.7" x2="1153" y2="1018.7"/>
<line x1="1013.5" y1="1129.3" x2="1135.5" y2="1129.3"/>
<line x1="983.1" y1="1225.3" x2="1165" y2="1225.3"/>
<line x1="1074.9" y1="1291" x2="1074.9" y2="1788"/>
</g>
<g fill="none" stroke="#204779" stroke-width="3" stroke-linejoin="miter" stroke-miterlimit="10" stroke-linecap="round">
<path d="M995.1,1014.7 C994.5,1018.7 992.8,1030.2 991.3,1038.7 C989.8,1047.2 987.5,1057.0 986.0,1065.5 C984.5,1074.0 983.2,1083.8 982.3,1090.0 C981.3,1096.2 980.9,1098.5 980.3,1102.5 C979.7,1106.5 979.3,1109.8 978.9,1114.1 C978.5,1118.4 978.1,1123.7 977.9,1128.5 C977.7,1133.3 977.7,1140.6 977.7,1143.0 C977.5,1144.2 977.4,1145.2 976.6,1150.0 C975.8,1154.8 974.7,1163.3 973.1,1171.8 C971.5,1180.2 969.2,1191.1 967.3,1200.7 C965.4,1210.3 963.1,1221.6 961.6,1229.6 C960.1,1237.6 959.0,1243.9 958.2,1248.5 C957.4,1253.1 957.0,1255.7 956.8,1257.1 C957.8,1257.7 960.8,1259.2 962.6,1260.6 C964.4,1262.0 966.2,1263.4 967.4,1265.3 C968.6,1267.2 969.1,1269.1 969.7,1271.8 C970.3,1274.5 970.5,1277.9 970.9,1281.2 C971.3,1284.5 971.6,1288.9 972.1,1291.8 C972.6,1294.7 973.3,1296.6 973.8,1298.8 C974.3,1301.0 975.0,1303.0 975.2,1304.7 C975.4,1306.4 975.3,1307.9 974.8,1308.8 C974.3,1309.7 973.0,1310.4 972.1,1310.2 C971.2,1310.0 969.9,1309.0 969.1,1307.6 C968.3,1306.2 967.9,1304.0 967.2,1301.8 C966.5,1299.5 965.6,1296.2 964.8,1294.1 C964.0,1292.0 963.1,1290.1 962.4,1289.0 C961.7,1287.9 961.0,1286.6 960.6,1287.3 C960.2,1288.0 960.0,1290.5 960.0,1292.9 C960.0,1295.3 960.2,1298.4 960.7,1301.8 C961.2,1305.2 961.9,1309.9 963.0,1313.5 C964.1,1317.1 965.9,1320.3 967.4,1323.5 C968.9,1326.7 970.9,1330.6 971.9,1332.9 C972.9,1335.2 973.6,1336.2 973.6,1337.4 C973.6,1338.6 973.0,1339.7 972.1,1340.0 C971.2,1340.3 970.3,1340.5 968.5,1339.5 C966.7,1338.5 964.0,1336.8 961.5,1334.1 C959.0,1331.4 956.1,1327.4 953.2,1323.5 C950.4,1319.6 947.0,1314.4 944.4,1310.6 C941.8,1306.8 939.3,1303.5 937.9,1300.6 C936.5,1297.6 936.5,1295.7 936.2,1292.9 C935.9,1290.2 936.0,1287.0 936.2,1284.1 C936.4,1281.2 937.1,1278.2 937.3,1275.3 C937.5,1272.4 937.6,1269.2 937.3,1266.5 C937.0,1263.8 936.1,1261.9 935.6,1259.4 C935.1,1257.0 934.7,1255.0 934.4,1251.8 C934.1,1248.6 933.8,1247.5 933.6,1240.0 C933.4,1232.5 933.3,1218.1 933.2,1207.0 C933.1,1195.9 932.9,1182.4 933.2,1173.5 C933.5,1164.6 934.1,1159.7 935.2,1153.5 C936.3,1147.3 938.6,1141.7 939.9,1136.1 C941.2,1130.5 942.4,1126.0 943.1,1120.0 C943.9,1114.0 943.9,1106.4 944.4,1100.0 C944.9,1093.6 945.8,1088.2 946.4,1081.5 C947.0,1074.8 947.6,1068.1 948.0,1060.1 C948.4,1052.1 948.7,1042.3 949.0,1033.4 C949.3,1024.5 949.3,1014.6 949.6,1006.6 C949.9,998.6 950.2,991.8 950.8,985.2 C951.3,978.6 952.0,972.6 952.9,967.1 C953.8,961.6 954.7,956.5 956.1,952.1 C957.5,947.7 959.1,944.0 961.2,940.5 C963.3,937.0 966.0,933.7 968.6,931.2 C971.2,928.7 973.0,927.4 977.0,925.6 C981.0,923.9 987.7,922.3 992.5,920.7 C997.3,919.1 1003.6,917.0 1005.8,916.2 C1004.7,915.4 1001.0,913.3 999.0,911.5 C997.0,909.7 995.1,907.7 993.6,905.5 C992.1,903.3 990.4,899.5 989.8,898.3 C990.9,897.7 994.6,896.2 996.6,894.6 C998.6,893.0 1000.5,890.9 1001.8,888.5 C1003.1,886.1 1003.8,883.4 1004.3,880.0 C1004.8,876.6 1005.0,872.7 1005.1,868.0 C1005.2,863.3 1004.8,856.9 1004.8,852.0 C1004.8,847.1 1004.8,843.7 1004.9,838.8 C1005.0,833.9 1005.3,826.8 1005.6,822.8 C1005.8,818.7 1006.1,817.2 1006.5,814.5 C1006.9,811.8 1007.3,809.2 1007.8,806.7 C1008.3,804.2 1008.9,801.7 1009.5,799.3 C1010.1,796.9 1010.8,794.6 1011.5,792.4 C1012.2,790.1 1013.0,787.9 1013.9,785.8 C1014.8,783.7 1015.7,781.7 1016.6,779.7 C1017.6,777.7 1018.6,775.8 1019.7,774.0 C1020.8,772.2 1021.9,770.4 1023.1,768.7 C1024.3,767.0 1025.5,765.4 1026.8,763.9 C1028.1,762.4 1029.4,760.9 1030.8,759.5 C1032.2,758.2 1033.6,756.9 1035.1,755.6 C1036.6,754.4 1038.1,753.3 1039.7,752.2 C1041.3,751.2 1042.9,750.2 1044.6,749.4 C1046.3,748.5 1048.0,747.7 1049.8,747.0 C1051.6,746.3 1053.4,745.6 1055.3,745.1 C1057.1,744.6 1059.1,744.1 1061.1,743.8 C1063.1,743.4 1065.1,743.1 1067.4,743.0 C1069.7,742.8 1072.5,742.7 1075.1,742.7 C1077.7,742.7 1080.5,742.8 1082.8,743.0 C1085.1,743.1 1087.1,743.4 1089.1,743.8 C1091.1,744.1 1093.1,744.6 1094.9,745.1 C1096.8,745.6 1098.6,746.3 1100.4,747.0 C1102.2,747.7 1103.9,748.5 1105.6,749.4 C1107.3,750.2 1108.9,751.2 1110.5,752.2 C1112.1,753.3 1113.6,754.4 1115.1,755.6 C1116.6,756.9 1118.0,758.2 1119.4,759.5 C1120.8,760.9 1122.1,762.4 1123.4,763.9 C1124.7,765.4 1125.9,767.0 1127.1,768.7 C1128.3,770.4 1129.4,772.2 1130.5,774.0 C1131.6,775.8 1132.6,777.7 1133.6,779.7 C1134.5,781.7 1135.4,783.7 1136.3,785.8 C1137.2,787.9 1138.0,790.1 1138.7,792.4 C1139.4,794.6 1140.1,796.9 1140.7,799.3 C1141.3,801.7 1141.9,804.2 1142.4,806.7 C1142.9,809.2 1143.3,811.8 1143.7,814.5 C1144.1,817.2 1144.4,818.7 1144.6,822.8 C1144.9,826.8 1145.3,833.9 1145.3,838.8 C1145.3,843.7 1144.9,847.1 1144.9,852.0 C1144.9,856.9 1145.0,863.3 1145.2,868.0 C1145.4,872.7 1145.6,876.6 1146.2,880.0 C1146.8,883.4 1147.4,886.1 1148.6,888.5 C1149.8,890.9 1151.5,893.0 1153.4,894.6 C1155.3,896.2 1158.9,897.8 1160.0,898.4 C1159.4,899.6 1158.0,903.2 1156.5,905.5 C1155.0,907.8 1153.0,910.1 1151.0,912.0 C1149.0,913.9 1145.3,915.8 1144.2,916.6 C1145.2,917.0 1147.2,918.2 1150.5,919.2 C1153.8,920.2 1159.9,921.4 1163.8,922.6 C1167.7,923.8 1171.0,924.6 1174.0,926.2 C1177.0,927.8 1179.1,929.6 1181.6,932.4 C1184.1,935.2 1186.8,938.8 1189.0,942.8 C1191.2,946.8 1193.1,950.9 1194.6,956.2 C1196.1,961.5 1197.0,968.5 1197.8,974.5 C1198.5,980.5 1198.8,985.8 1199.1,992.0 C1199.4,998.2 1199.5,1004.2 1199.7,1012.0 C1199.9,1019.8 1199.9,1029.8 1200.3,1038.7 C1200.7,1047.6 1201.5,1055.3 1202.2,1065.5 C1202.9,1075.7 1203.8,1092.0 1204.2,1100.0 C1204.7,1108.0 1204.5,1108.5 1204.9,1113.4 C1205.4,1118.3 1205.8,1123.8 1206.9,1129.4 C1208.0,1135.0 1210.1,1141.0 1211.4,1146.8 C1212.7,1152.6 1214.0,1156.4 1214.7,1164.2 C1215.4,1172.0 1215.5,1182.0 1215.5,1193.6 C1215.5,1205.2 1214.8,1226.0 1214.7,1233.7 C1214.6,1241.4 1215.0,1237.5 1215.0,1240.0 C1215.0,1242.5 1214.6,1245.9 1214.4,1248.8 C1214.2,1251.7 1214.2,1254.9 1213.8,1257.6 C1213.4,1260.2 1212.5,1262.2 1212.1,1264.7 C1211.7,1267.2 1211.4,1269.7 1211.5,1272.4 C1211.6,1275.2 1212.3,1278.1 1212.6,1281.2 C1212.9,1284.3 1213.4,1288.1 1213.2,1291.2 C1213.0,1294.3 1212.7,1296.8 1211.5,1300.0 C1210.3,1303.2 1208.5,1306.9 1206.2,1310.6 C1203.9,1314.3 1200.9,1318.7 1197.9,1322.4 C1195.0,1326.1 1191.2,1330.1 1188.5,1332.9 C1185.8,1335.8 1183.3,1338.3 1181.5,1339.5 C1179.7,1340.7 1178.4,1340.4 1177.4,1340.0 C1176.4,1339.6 1175.6,1338.6 1175.7,1337.1 C1175.8,1335.6 1176.8,1333.7 1177.9,1331.2 C1179.1,1328.8 1181.1,1325.4 1182.6,1322.4 C1184.1,1319.5 1185.7,1316.9 1186.8,1313.5 C1187.9,1310.1 1188.6,1305.2 1189.1,1301.8 C1189.6,1298.4 1189.9,1295.3 1189.8,1292.9 C1189.7,1290.5 1189.1,1288.0 1188.6,1287.3 C1188.1,1286.6 1187.7,1287.5 1187.0,1288.6 C1186.3,1289.7 1185.2,1292.0 1184.4,1294.1 C1183.6,1296.2 1182.8,1299.0 1182.1,1301.2 C1181.4,1303.5 1181.0,1306.1 1180.3,1307.6 C1179.6,1309.1 1178.9,1310.0 1177.9,1310.2 C1177.0,1310.4 1175.2,1309.9 1174.6,1308.8 C1174.0,1307.7 1174.0,1305.7 1174.4,1303.5 C1174.8,1301.3 1176.1,1298.6 1176.8,1295.9 C1177.5,1293.2 1178.1,1290.0 1178.5,1287.1 C1178.9,1284.1 1178.8,1281.2 1179.1,1278.2 C1179.4,1275.2 1179.7,1271.9 1180.3,1269.4 C1180.9,1267.0 1181.4,1265.1 1182.6,1263.5 C1183.8,1261.9 1185.8,1261.1 1187.4,1260.0 C1189.0,1258.9 1191.3,1257.6 1192.1,1257.1 C1191.9,1255.7 1191.4,1251.6 1190.9,1248.8 C1190.4,1246.0 1189.6,1243.0 1189.1,1240.0 C1188.6,1237.0 1188.9,1237.0 1188.0,1231.0 C1187.1,1225.0 1185.3,1214.5 1183.5,1204.3 C1181.7,1194.0 1178.9,1178.5 1177.2,1169.5 C1175.5,1160.5 1174.4,1154.3 1173.6,1150.0 C1172.8,1145.7 1172.6,1144.6 1172.4,1143.5 C1172.3,1141.2 1172.3,1134.9 1172.0,1130.0 C1171.7,1125.1 1171.2,1119.3 1170.6,1114.0 C1170.0,1108.7 1169.9,1106.1 1168.6,1098.0 C1167.3,1089.9 1164.5,1075.4 1162.7,1065.5 C1160.9,1055.6 1159.0,1047.2 1157.6,1038.7 C1156.2,1030.2 1154.8,1018.7 1154.2,1014.7 "/>
<path d="M995.1,1014.7 C995.5,1016.6 996.6,1022.7 997.7,1025.9 C998.9,1029.2 1000.4,1031.9 1002.0,1034.2 C1003.6,1036.5 1006.7,1038.9 1007.6,1039.8 C1007.9,1040.9 1009.1,1041.9 1009.6,1046.2 C1010.1,1050.5 1010.2,1058.7 1010.6,1065.5 C1011.0,1072.3 1011.4,1081.2 1011.7,1086.9 C1012.0,1092.7 1012.1,1095.6 1012.3,1100.0 C1012.5,1104.4 1012.8,1108.5 1012.9,1113.4 C1013.0,1118.3 1012.9,1126.7 1012.9,1129.4 C1011.7,1131.6 1008.4,1137.2 1005.6,1142.8 C1002.8,1148.4 999.1,1156.1 996.2,1162.8 C993.3,1169.5 990.4,1176.4 988.4,1182.9 C986.4,1189.4 985.3,1195.8 984.3,1201.6 C983.3,1207.4 982.7,1212.2 982.2,1217.6 C981.7,1222.9 981.6,1226.6 981.3,1233.7 C981.0,1240.8 980.7,1249.5 980.6,1260.4 C980.5,1271.3 980.2,1284.2 980.9,1299.1 C981.5,1314.0 983.0,1334.2 984.5,1349.9 C986.0,1365.6 988.6,1380.2 990.1,1393.5 C991.6,1406.8 992.7,1420.2 993.2,1429.9 C993.7,1439.6 993.7,1443.7 993.3,1451.7 C992.9,1459.7 992.1,1470.3 990.8,1478.0 C989.4,1485.7 986.8,1491.5 985.2,1497.7 C983.6,1503.9 982.3,1508.0 981.4,1515.3 C980.5,1522.6 980.1,1530.0 979.9,1541.8 C979.7,1553.6 979.9,1571.2 980.3,1585.9 C980.7,1600.6 981.5,1615.3 982.1,1630.0 C982.7,1644.7 983.4,1661.0 983.8,1674.2 C984.2,1687.5 984.8,1699.9 984.6,1709.5 C984.5,1719.1 983.6,1725.2 982.9,1732.0 C982.2,1738.8 981.2,1745.2 980.3,1750.0 C979.3,1754.8 978.4,1756.9 977.2,1760.5 C976.0,1764.1 974.4,1768.1 973.3,1771.5 C972.2,1774.9 971.1,1778.3 970.8,1781.0 C970.4,1783.7 970.5,1785.8 971.2,1787.5 C971.9,1789.2 973.0,1790.2 975.0,1791.5 C977.0,1792.8 980.2,1794.2 983.0,1795.4 C985.8,1796.6 989.2,1797.9 992.0,1798.8 C994.8,1799.7 997.7,1800.2 1000.0,1800.6 C1002.3,1801.0 1004.1,1801.2 1006.0,1801.1 C1007.9,1801.0 1009.9,1800.7 1011.4,1799.8 C1012.9,1798.9 1014.1,1797.3 1014.8,1795.5 C1015.5,1793.7 1015.6,1791.5 1015.6,1788.8 C1015.6,1786.1 1015.0,1782.3 1014.5,1779.1 C1014.0,1775.9 1013.2,1772.6 1012.7,1769.4 C1012.2,1766.2 1011.6,1763.3 1011.2,1759.7 C1010.8,1756.1 1010.7,1754.9 1010.4,1748.0 C1010.1,1741.1 1009.4,1727.7 1009.5,1718.3 C1009.6,1708.9 1009.8,1702.1 1011.3,1691.8 C1012.8,1681.5 1015.6,1668.3 1018.2,1656.5 C1020.8,1644.7 1024.4,1631.5 1027.0,1621.2 C1029.6,1610.9 1032.1,1603.5 1034.0,1594.7 C1035.9,1585.9 1037.4,1578.6 1038.6,1568.3 C1039.8,1558.0 1040.8,1543.3 1041.1,1533.0 C1041.4,1522.7 1040.8,1515.2 1040.6,1506.5 C1040.4,1497.8 1039.8,1488.6 1040.2,1481.0 C1040.7,1473.4 1041.9,1469.5 1043.3,1461.0 C1044.7,1452.5 1046.2,1442.4 1048.5,1429.9 C1050.8,1417.5 1054.3,1402.0 1057.2,1386.3 C1060.1,1370.5 1063.5,1349.9 1065.9,1335.4 C1068.4,1320.9 1070.5,1307.0 1071.9,1299.1 C1073.3,1291.2 1074.0,1289.8 1074.4,1288.0 C1074.9,1289.8 1075.4,1291.2 1077.1,1299.1 C1078.8,1307.0 1081.9,1320.9 1084.6,1335.4 C1087.3,1349.9 1090.5,1369.3 1093.4,1386.3 C1096.3,1403.2 1099.8,1424.6 1102.0,1437.1 C1104.2,1449.5 1105.5,1453.7 1106.6,1461.0 C1107.7,1468.3 1108.4,1473.4 1108.8,1481.0 C1109.2,1488.6 1109.3,1497.8 1109.2,1506.5 C1109.1,1515.2 1108.3,1522.7 1108.4,1533.0 C1108.5,1543.3 1108.8,1558.0 1110.0,1568.3 C1111.2,1578.6 1112.9,1584.4 1115.3,1594.7 C1117.7,1605.0 1121.2,1618.2 1124.2,1630.0 C1127.2,1641.8 1130.7,1655.0 1133.0,1665.3 C1135.3,1675.6 1137.1,1683.0 1138.3,1691.8 C1139.5,1700.6 1139.9,1709.5 1140.1,1718.3 C1140.2,1727.1 1139.6,1738.3 1139.2,1744.8 C1138.8,1751.2 1138.2,1753.0 1137.6,1757.0 C1137.0,1761.0 1136.4,1764.9 1135.8,1769.0 C1135.2,1773.1 1134.5,1777.9 1134.2,1781.5 C1133.9,1785.1 1133.7,1787.9 1133.9,1790.5 C1134.1,1793.1 1134.7,1795.4 1135.6,1797.0 C1136.5,1798.6 1137.9,1799.5 1139.5,1800.2 C1141.1,1800.9 1142.6,1801.1 1145.0,1801.1 C1147.4,1801.0 1151.0,1800.6 1154.1,1799.9 C1157.2,1799.2 1160.7,1798.1 1163.8,1797.0 C1166.9,1795.9 1170.2,1794.6 1172.5,1793.2 C1174.8,1791.8 1176.2,1790.5 1177.3,1788.5 C1178.3,1786.5 1178.8,1783.9 1178.8,1781.5 C1178.8,1779.1 1178.2,1776.8 1177.3,1774.2 C1176.4,1771.6 1174.8,1768.8 1173.6,1766.0 C1172.4,1763.2 1171.0,1760.0 1170.2,1757.3 C1169.4,1754.6 1169.3,1754.4 1168.6,1750.0 C1167.8,1745.6 1166.5,1737.5 1165.7,1730.7 C1164.9,1724.0 1164.1,1718.9 1163.9,1709.5 C1163.8,1700.1 1164.4,1687.5 1164.8,1674.2 C1165.2,1661.0 1165.8,1644.7 1166.5,1630.0 C1167.2,1615.3 1168.6,1600.6 1169.2,1585.9 C1169.8,1571.2 1170.4,1553.6 1170.0,1541.8 C1169.6,1530.0 1168.0,1523.2 1166.6,1515.3 C1165.2,1507.3 1162.8,1500.8 1161.4,1494.1 C1160.0,1487.4 1158.8,1481.5 1158.0,1475.0 C1157.2,1468.5 1156.7,1462.5 1156.4,1455.0 C1156.1,1447.5 1155.8,1440.2 1156.2,1429.9 C1156.6,1419.7 1157.6,1406.8 1158.9,1393.5 C1160.2,1380.2 1162.5,1365.6 1164.0,1349.9 C1165.5,1334.2 1166.9,1314.0 1167.6,1299.1 C1168.3,1284.2 1168.2,1272.9 1168.1,1260.4 C1168.0,1247.9 1167.5,1234.1 1166.9,1224.3 C1166.4,1214.5 1165.8,1208.5 1164.8,1201.6 C1163.8,1194.7 1162.7,1189.6 1160.7,1182.9 C1158.7,1176.2 1155.6,1168.2 1152.7,1161.5 C1149.8,1154.8 1146.2,1148.1 1143.4,1142.8 C1140.6,1137.5 1137.2,1131.6 1136.0,1129.4 C1136.0,1126.7 1135.9,1117.9 1136.0,1113.0 C1136.1,1108.1 1136.4,1104.3 1136.6,1100.0 C1136.8,1095.7 1137.2,1092.7 1137.4,1086.9 C1137.7,1081.2 1137.8,1072.3 1138.1,1065.5 C1138.4,1058.7 1138.7,1050.4 1139.2,1046.2 C1139.7,1042.0 1141.0,1041.3 1141.3,1040.3 C1142.3,1039.3 1145.8,1036.7 1147.5,1034.3 C1149.2,1031.9 1150.7,1029.2 1151.8,1025.9 C1152.9,1022.6 1153.8,1016.6 1154.2,1014.7 "/>
</g>
<text x="0" y="0" transform="translate(1070.3,1666.2) rotate(-90)" font-family="Liberation Sans" font-weight="bold" font-size="21.8" fill="#234b80" stroke="#234b80" stroke-width="0.5" textLength="81" lengthAdjust="spacingAndGlyphs">INSEAM</text>
</svg>
<svg width="1445" height="1870" viewBox="0 0 1445 1870">
<g fill="none" stroke="#24508a" stroke-linejoin="round">
<path d="M493.8,70.8 C495.9,72.1 504.4,77.3 506.5,78.6" stroke-width="3.2" stroke-linecap="round"/>
<path d="M500.7,67.0 C502.8,68.3 510.9,73.7 513.0,75.0" stroke-width="3.2" stroke-linecap="round"/>
<path d="M507.6,63.2 C509.5,64.4 517.2,69.4 519.1,70.6" stroke-width="3.2" stroke-linecap="round"/>
<path d="M507.3,79.0 C507.3,81.8 507.3,92.9 507.3,95.7" stroke-width="3.2" stroke-linecap="round"/>
<path d="M514.2,75.5 C514.2,78.3 514.2,89.8 514.2,92.6" stroke-width="3.2" stroke-linecap="round"/>
<path d="M520.8,72.0 C520.8,74.8 520.8,86.0 520.8,88.8" stroke-width="3.2" stroke-linecap="round"/>
<path d="M499.7,83.3 C501.0,82.5 504.9,79.9 507.3,78.4 C509.7,76.9 511.9,75.5 514.2,74.3 C516.5,73.1 518.9,71.7 521.1,71.0 C523.3,70.3 525.1,70.3 527.4,70.3 C529.7,70.3 532.0,70.3 535.0,70.8 C538.0,71.3 541.9,72.4 545.4,73.3 C548.9,74.2 552.2,75.1 555.7,76.0 C559.2,76.9 562.6,78.1 566.1,78.6 C569.6,79.1 573.8,79.1 576.5,78.8 C579.2,78.5 580.2,77.5 582.1,76.6 C584.0,75.7 586.8,74.1 587.7,73.6" stroke-width="3.4" stroke-linecap="round"/>
<path d="M541.6,108.0 C541.9,106.3 542.8,101.2 543.5,98.0 C544.2,94.8 544.8,92.0 545.6,88.8 C546.4,85.6 547.4,82.2 548.3,79.0 C549.2,75.8 550.1,73.0 551.1,69.8 C552.1,66.5 553.3,62.8 554.5,59.5 C555.7,56.2 557.0,52.8 558.5,50.0 C560.0,47.2 561.8,44.8 563.5,43.0 C565.2,41.2 567.2,39.9 569.0,39.3 C570.8,38.7 573.6,39.5 574.5,39.6" stroke-width="5.06" stroke-linecap="round"/>
<path d="M575.0,41.8 C575.3,42.7 576.3,44.8 576.6,47.0 C576.9,49.2 577.0,52.3 577.0,55.0 C577.0,57.7 576.9,59.2 576.7,63.0 C576.5,66.8 576.1,73.0 575.8,78.0 C575.5,83.0 575.0,87.7 574.7,93.0 C574.4,98.3 574.1,105.4 574.2,110.0 C574.3,114.6 575.3,118.8 575.5,120.5" stroke-width="10.78" stroke-linecap="round"/>
<path d="M575.5,121.0 C576.0,121.6 577.3,124.0 578.5,124.5 C579.7,125.0 581.0,124.9 582.5,123.8 C584.0,122.7 586.1,120.9 587.7,118.1 C589.3,115.3 590.8,111.2 592.1,107.1 C593.4,102.9 594.3,96.7 595.4,93.2 C596.5,89.7 598.2,87.2 598.8,86.0" stroke-width="5.5" stroke-linecap="round"/>
<path d="M600.8,87.0 C601.0,88.5 601.8,92.5 602.3,96.0 C602.8,99.5 603.3,104.2 603.8,108.0 C604.3,111.8 604.9,116.4 605.5,119.0 C606.1,121.6 606.9,122.8 607.2,123.5" stroke-width="10.12" stroke-linecap="round"/>
<path d="M607.0,124.5 C607.6,124.3 609.2,124.8 610.5,123.2 C611.8,121.6 613.2,118.2 614.5,115.0 C615.8,111.8 616.9,108.0 618.3,104.3 C619.7,100.6 622.0,94.5 622.8,92.6" stroke-width="4.84" stroke-linecap="round"/>
<path d="M623.7,93.0 C623.3,92.8 622.5,92.7 621.3,92.0 C620.1,91.3 618.2,90.0 616.5,88.7 C614.8,87.4 612.8,85.8 611.3,84.2 C609.8,82.7 608.7,81.0 607.8,79.4 C606.9,77.8 606.2,76.0 606.1,74.5 C606.0,73.0 606.4,71.5 607.0,70.6 C607.6,69.7 608.5,69.2 609.5,69.0 C610.5,68.8 611.6,69.0 612.8,69.6 C614.0,70.2 615.6,72.7 616.5,72.6 C617.4,72.5 617.6,69.7 618.3,68.8 C619.0,67.9 619.6,67.4 620.5,67.0 C621.4,66.6 622.4,66.4 623.4,66.5 C624.4,66.6 625.5,66.8 626.2,67.6 C626.9,68.3 627.4,69.7 627.6,71.0 C627.8,72.3 627.7,73.9 627.5,75.5 C627.3,77.1 627.0,78.8 626.5,80.8 C626.0,82.8 625.3,85.7 624.8,87.7 C624.3,89.7 623.9,92.1 623.7,93.0" stroke-width="4.84" stroke-linecap="round"/>
<path d="M623.7,93.0 C624.1,93.2 625.1,93.7 626.1,94.0 C627.1,94.3 628.5,95.0 629.6,95.0 C630.8,95.0 631.9,95.0 633.0,94.2 C634.1,93.5 635.3,91.8 636.5,90.5 C637.7,89.2 638.7,87.7 640.4,86.3 C642.1,84.9 644.5,83.2 646.6,82.3 C648.7,81.4 651.1,81.0 652.8,80.8 C654.5,80.6 656.3,81.1 657.0,81.2" stroke-width="5.28" stroke-linecap="round"/>
<path d="M647.5,82.0 C646.5,82.9 643.0,85.3 641.5,87.5 C640.0,89.7 639.2,92.3 638.5,94.9 C637.8,97.5 637.2,100.7 637.5,103.0 C637.8,105.3 638.9,107.8 640.4,109.0 C641.9,110.2 644.7,110.3 646.6,110.0 C648.5,109.7 650.3,108.3 651.6,107.0 C652.9,105.7 653.7,104.0 654.5,102.0 C655.3,100.0 656.2,96.2 656.5,95.0" stroke-width="7.26" stroke-linecap="round"/>
<path d="M661.3,80.0 C661.2,81.3 660.9,85.2 660.6,88.0 C660.4,90.8 660.0,94.2 659.8,97.0 C659.6,99.8 659.3,102.9 659.3,105.0 C659.3,107.1 659.5,108.8 659.6,109.5" stroke-width="10.56" stroke-linecap="round"/>
<path d="M659.6,109.8 C660.0,110.0 661.0,111.1 662.0,110.8 C663.0,110.5 663.7,109.4 665.3,107.8 C666.9,106.2 669.4,103.4 671.5,101.1 C673.6,98.8 676.2,96.0 677.8,94.1 C679.4,92.2 680.5,90.3 681.1,89.5" stroke-width="5.5" stroke-linecap="round"/>
<path d="M662.8,53.3 C663.6,52.8 665.7,51.5 667.5,50.6 C669.3,49.7 671.4,48.8 673.8,48.0 C676.2,47.2 679.1,46.4 682.0,45.9 C684.9,45.4 688.1,45.2 691.1,45.1 C694.1,45.0 697.1,45.2 700.0,45.5 C702.9,45.8 705.1,46.2 708.4,46.7 C711.7,47.2 716.1,48.0 720.0,48.6 C723.9,49.2 727.6,49.8 731.8,50.3 C736.0,50.8 740.8,51.5 745.0,51.8 C749.2,52.1 753.5,52.5 757.3,52.2 C761.1,51.9 764.8,50.9 767.7,50.1 C770.6,49.4 772.9,48.2 774.6,47.7 C776.3,47.2 777.4,46.9 777.9,46.8" stroke-width="4.62" stroke-linecap="round"/>
<path d="M715.0,50.8 C714.5,52.5 713.1,56.5 711.8,61.1 C710.5,65.7 708.3,72.4 707.0,78.4 C705.7,84.4 704.9,91.2 704.2,97.0 C703.5,102.8 703.1,108.5 703.0,113.0 C702.9,117.5 703.3,121.4 703.6,124.0 C703.9,126.6 704.8,127.8 705.0,128.5" stroke-width="10.45" stroke-linecap="round"/>
<path d="M716.2,48.5 C715.8,49.6 714.0,53.9 713.5,55.0" stroke-width="6.05" stroke-linecap="round"/>
<path d="M705.5,129.5 C706.1,129.1 708.2,128.8 709.2,127.2 C710.2,125.6 710.8,122.9 711.6,120.0 C712.4,117.1 712.8,113.3 714.0,109.6 C715.2,105.9 717.2,100.9 718.8,97.8 C720.4,94.7 722.1,92.5 723.7,90.9 C725.3,89.3 727.7,88.7 728.5,88.2" stroke-width="4.73" stroke-linecap="round"/>
<path d="M755.5,42.0 C754.8,42.7 752.9,44.6 751.5,46.3 C750.1,48.0 747.8,51.0 747.0,52.0" stroke-width="6.8" stroke-linecap="round"/>
<path d="M748.0,51.0 C747.2,52.2 744.9,55.1 743.1,58.1 C741.4,61.1 739.2,65.1 737.5,69.3 C735.8,73.5 734.2,78.6 733.0,83.3 C731.8,88.0 730.9,92.7 730.2,97.4 C729.5,102.1 729.1,107.7 729.0,111.4 C728.9,115.1 729.5,118.2 729.6,119.5" stroke-width="9.8" stroke-linecap="round"/>
<path d="M749.8,48.5 C750.6,47.5 753.1,44.2 754.5,42.6 C755.9,41.0 756.9,39.6 758.0,38.9 C759.1,38.2 760.2,38.0 761.0,38.3 C761.8,38.6 762.6,39.5 763.0,40.5 C763.4,41.5 763.4,42.6 763.3,44.0 C763.2,45.4 762.9,47.1 762.3,49.0 C761.7,50.9 761.7,52.8 759.9,55.3 C758.1,57.8 754.3,61.2 751.5,63.7 C748.7,66.2 745.4,68.9 743.1,70.4 C740.8,72.0 738.4,72.6 737.5,73.0" stroke-width="4.9" stroke-linecap="round"/>
<path d="M731.5,98.0 C731.8,97.2 732.4,95.5 733.5,93.5 C734.6,91.5 736.4,88.1 738.0,86.0 C739.6,83.9 741.6,82.1 743.3,81.0 C745.0,79.9 746.5,79.4 748.0,79.2 C749.5,79.0 751.1,79.1 752.0,80.0 C752.9,80.9 753.4,82.8 753.6,84.5 C753.8,86.2 753.1,89.1 753.0,90.0" stroke-width="5.72" stroke-linecap="round"/>
<path d="M753.2,85.0 C753.1,86.2 752.8,89.3 752.3,92.0 C751.8,94.7 751.1,97.9 750.4,101.0 C749.7,104.1 748.8,107.6 748.2,110.5 C747.6,113.4 747.0,116.2 746.8,118.5 C746.6,120.8 747.0,123.5 747.0,124.5" stroke-width="9.4" stroke-linecap="round"/>
<path d="M747.2,125.5 C747.8,125.4 749.5,126.4 751.0,124.8 C752.5,123.2 754.6,119.3 756.5,116.0 C758.4,112.7 760.6,108.5 762.5,105.0 C764.4,101.5 766.1,98.0 767.8,95.0 C769.5,92.0 771.7,88.3 772.5,87.0" stroke-width="5.06" stroke-linecap="round"/>
<path d="M770.5,91.0 C771.2,90.0 773.0,86.6 774.5,85.0 C776.0,83.4 777.9,82.2 779.5,81.6 C781.1,81.0 782.9,80.9 784.0,81.2 C785.1,81.5 786.0,82.5 786.2,83.5 C786.4,84.5 786.2,86.1 785.2,87.3 C784.2,88.5 782.2,89.5 780.5,90.5 C778.8,91.5 776.5,92.0 775.0,93.0 C773.5,94.0 772.3,95.9 771.8,96.5" stroke-width="5.5" stroke-linecap="round"/>
<path d="M774.5,85.0 C774.0,86.2 772.2,89.5 771.6,92.0 C771.0,94.5 770.8,97.9 770.9,100.2 C771.0,102.5 771.4,104.4 772.4,105.8 C773.4,107.2 775.0,108.3 776.8,108.6 C778.6,108.9 780.9,108.8 783.0,107.8 C785.1,106.8 787.5,104.4 789.5,102.3 C791.5,100.2 793.3,97.1 795.0,95.0 C796.7,92.9 798.8,90.7 799.5,89.8" stroke-width="6.4" stroke-linecap="round"/>
<path d="M801.0,91.2 C801.1,92.6 801.5,96.8 801.7,99.5 C801.9,102.2 802.1,106.0 802.2,107.3" stroke-width="9.6" stroke-linecap="round"/>
<path d="M803.5,107.5 C804.0,106.8 805.6,105.6 806.6,103.5 C807.6,101.4 808.8,97.8 809.8,95.0 C810.8,92.2 811.7,89.2 812.7,87.0 C813.7,84.8 814.8,82.6 815.9,82.0 C817.0,81.4 818.4,82.4 819.5,83.3 C820.6,84.2 821.4,86.2 822.6,87.6 C823.8,88.9 825.3,90.5 826.5,91.4 C827.7,92.3 829.4,92.7 830.0,93.0" stroke-width="6.6" stroke-linecap="round"/>
<path d="M826.5,92.0 C827.0,91.3 828.4,89.3 829.5,88.0 C830.6,86.7 831.6,85.0 833.0,84.0 C834.4,83.0 836.2,82.5 837.8,82.2 C839.4,81.9 841.3,81.8 842.5,82.3 C843.7,82.8 844.8,84.0 845.0,85.0 C845.2,86.0 844.7,87.5 844.0,88.5 C843.3,89.5 842.0,90.2 840.6,91.0 C839.2,91.8 837.0,92.5 835.5,93.3 C834.0,94.1 832.2,95.5 831.5,96.0" stroke-width="5.6" stroke-linecap="round"/>
<path d="M833.5,85.5 C833.0,86.4 831.3,89.1 830.8,91.0 C830.3,92.9 830.3,95.1 830.4,97.1 C830.5,99.1 830.6,101.3 831.3,102.9 C832.0,104.5 833.3,106.0 834.8,106.8 C836.2,107.6 838.2,107.9 840.0,107.8 C841.8,107.7 843.7,107.0 845.5,106.2 C847.3,105.4 849.0,104.0 850.6,102.9 C852.2,101.8 853.6,100.6 855.0,99.5 C856.4,98.4 858.2,97.0 858.8,96.5" stroke-width="6.8" stroke-linecap="round"/>
<path d="M858.8,96.5 C859.2,95.7 860.7,93.2 861.5,91.5 C862.3,89.8 862.9,88.1 863.8,86.5 C864.7,84.9 865.9,83.0 867.1,81.8 C868.4,80.6 870.0,79.7 871.3,79.6 C872.5,79.5 873.8,80.1 874.6,81.0 C875.4,81.9 875.7,84.2 875.9,84.8" stroke-width="5.2" stroke-linecap="round"/>
<path d="M869.0,80.8 C868.5,81.7 866.6,84.1 866.2,86.0 C865.8,87.9 866.1,90.2 866.6,92.0 C867.1,93.8 868.3,95.4 869.5,97.0 C870.7,98.6 872.4,100.0 873.6,101.8 C874.8,103.6 876.0,105.6 876.5,107.6 C877.0,109.5 877.3,111.8 876.9,113.5 C876.5,115.2 875.5,117.0 874.1,118.0 C872.8,119.0 870.4,119.5 868.8,119.2 C867.2,118.9 865.2,117.5 864.3,116.2 C863.4,114.9 862.9,113.0 863.2,111.2 C863.5,109.4 864.5,107.0 866.0,105.3 C867.5,103.6 869.8,102.2 872.5,100.8 C875.2,99.4 879.6,98.1 882.4,97.1 C885.2,96.1 888.2,95.1 889.4,94.7" stroke-width="6.2" stroke-linecap="round"/>
<path d="M889.4,94.7 C889.9,93.7 891.0,90.5 892.2,88.5 C893.4,86.5 895.0,84.4 896.5,83.0 C898.0,81.6 900.1,80.5 901.5,80.3 C902.9,80.0 904.3,80.8 905.0,81.5 C905.7,82.2 906.0,83.6 905.6,84.8 C905.2,86.0 903.9,87.4 902.6,88.5 C901.3,89.6 899.1,90.6 897.6,91.6 C896.1,92.6 894.2,94.0 893.5,94.5" stroke-width="5.6" stroke-linecap="round"/>
<path d="M896.0,84.5 C895.4,85.5 893.2,88.3 892.5,90.5 C891.8,92.7 891.6,95.2 891.6,97.5 C891.6,99.8 891.7,102.3 892.6,104.0 C893.5,105.7 895.1,107.2 896.8,107.8 C898.5,108.4 900.8,108.4 902.8,107.8 C904.8,107.2 907.0,105.7 909.0,104.3 C911.0,102.9 912.8,101.2 914.5,99.5 C916.2,97.8 917.9,95.6 919.5,93.8 C921.1,92.0 922.6,89.9 924.0,88.5 C925.4,87.1 927.3,85.8 928.0,85.2" stroke-width="6.4" stroke-linecap="round"/>
</g>
<circle cx="499.7" cy="83.3" r="3.6" fill="#24508a"/>
<path d="M926.5,71.8 L954.7,85.3 L926.5,101.2 Z" fill="#24508a" stroke="none"/>
<g fill="none" stroke="#24508a" stroke-width="1.25">
<circle cx="639.3" cy="149.3" r="6.0"/><circle cx="633.9" cy="157.3" r="6.0"/><circle cx="644.9" cy="157.3" r="6.0"/>
<ellipse cx="636.9" cy="148.7" rx="2.2" ry="3.2" transform="rotate(-15 636.9 148.7)"/><ellipse cx="641.7" cy="148.7" rx="2.2" ry="3.2" transform="rotate(15 641.7 148.7)"/>
<ellipse cx="632.6" cy="155.6" rx="3.3" ry="2.1" transform="rotate(15 632.6 155.6)"/><ellipse cx="646.2" cy="155.6" rx="3.3" ry="2.1" transform="rotate(-15 646.2 155.6)"/>
<ellipse cx="635.8" cy="160.2" rx="2.3" ry="3.0" transform="rotate(30 635.8 160.2)"/><ellipse cx="643.0" cy="160.2" rx="2.3" ry="3.0" transform="rotate(-30 643.0 160.2)"/>
</g>
</svg>
</body></html>
